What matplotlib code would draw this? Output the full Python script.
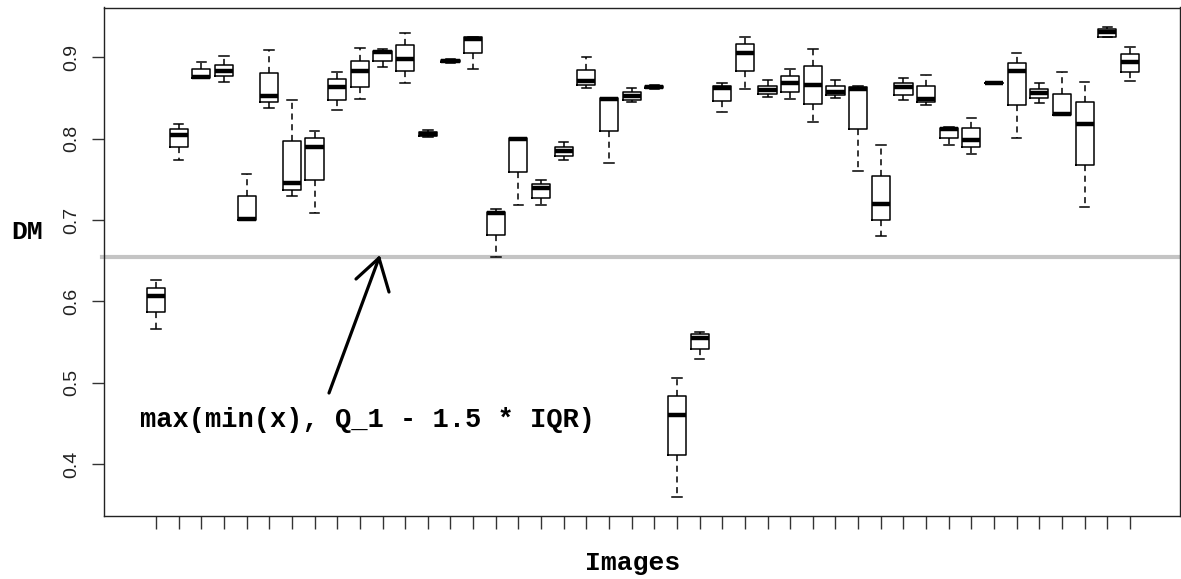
import matplotlib
matplotlib.use("Agg")
import matplotlib.pyplot as plt
from matplotlib.lines import Line2D

# five-number summaries per image (top whisker -> bottom whisker)
whis_hi = [0.626, 0.818, 0.894, 0.9016, 0.7565, 0.9086, 0.848, 0.809, 0.882, 0.912,
           0.910, 0.930, 0.811, 0.898, 0.9246, 0.714, 0.801, 0.749, 0.7955, 0.900,
           0.8496, 0.8626, 0.866, 0.506, 0.5627, 0.868, 0.925, 0.8717, 0.8856, 0.9106,
           0.8717, 0.8647, 0.7918, 0.8746, 0.8782, 0.8143, 0.8258, 0.8695, 0.9053, 0.868,
           0.8823, 0.870, 0.9372, 0.9123]
q3 = [0.616, 0.8115, 0.886, 0.891, 0.730, 0.881, 0.797, 0.801, 0.873, 0.896,
      0.908, 0.915, 0.808, 0.897, 0.9246, 0.710, 0.801, 0.7446, 0.790, 0.884,
      0.8496, 0.857, 0.865, 0.4833, 0.5595, 0.8647, 0.9163, 0.8647, 0.877, 0.8893,
      0.8643, 0.8631, 0.7545, 0.868, 0.8643, 0.8131, 0.8131, 0.869, 0.893, 0.861,
      0.8553, 0.8447, 0.9344, 0.9037]
medians = [0.606, 0.8045, 0.8755, 0.883, 0.701, 0.852, 0.746, 0.790, 0.863, 0.883,
           0.906, 0.898, 0.806, 0.895, 0.922, 0.708, 0.799, 0.739, 0.785, 0.8705,
           0.8484, 0.853, 0.864, 0.4603, 0.5553, 0.8623, 0.9057, 0.8598, 0.8684, 0.8663,
           0.8573, 0.8614, 0.7193, 0.8639, 0.8484, 0.8115, 0.7987, 0.8684, 0.8828, 0.8557,
           0.8307, 0.8184, 0.9315, 0.8942]
q1 = [0.5865, 0.790, 0.874, 0.877, 0.700, 0.845, 0.737, 0.749, 0.848, 0.864,
      0.895, 0.8835, 0.803, 0.894, 0.905, 0.6816, 0.7594, 0.7274, 0.779, 0.866,
      0.8094, 0.848, 0.862, 0.4111, 0.5418, 0.8467, 0.8835, 0.8549, 0.8573, 0.843,
      0.8533, 0.8115, 0.6996, 0.8537, 0.845, 0.8012, 0.790, 0.868, 0.8414, 0.8503,
      0.8294, 0.7672, 0.9253, 0.8823]
whis_lo = [0.566, 0.774, 0.874, 0.870, 0.700, 0.838, 0.730, 0.709, 0.835, 0.849,
           0.888, 0.868, 0.802, 0.893, 0.8856, 0.655, 0.719, 0.719, 0.774, 0.8626,
           0.7704, 0.845, 0.861, 0.3591, 0.5295, 0.8324, 0.8607, 0.8516, 0.8484, 0.820,
           0.8503, 0.760, 0.6803, 0.8471, 0.8417, 0.7918, 0.7815, 0.8675, 0.8012, 0.8435,
           0.8294, 0.7156, 0.925, 0.8705]

cutoff = 0.654  # grey reference line
note = "max(min(x), Q_1 - 1.5 * IQR)"

W, H = 1181, 579
fig = plt.figure(figsize=(W / 100, H / 100), dpi=100)
ax = fig.add_axes([104 / W, 1 - 516 / H, (1180 - 104) / W, (516 - 7.5) / H])

stats = []
for i in range(len(medians)):
    stats.append(dict(whislo=whis_lo[i], q1=q1[i], med=medians[i], q3=q3[i],
                      whishi=whis_hi[i], fliers=[]))
positions = list(range(1, len(stats) + 1))

ax.bxp(stats, positions=positions, widths=0.8, capwidths=0.42, showfliers=False,
       boxprops=dict(color="black", linewidth=1.1),
       medianprops=dict(color="black", linewidth=3.2, solid_capstyle="butt"),
       whiskerprops=dict(color="black", linewidth=1.1, linestyle=(0, (4, 3))),
       capprops=dict(color="black", linewidth=1.1))

ax.axhline(cutoff, xmin=-0.002, xmax=1.0, color="#c4c4c4", linewidth=3, clip_on=False, zorder=0)

ax.set_xlim(-1.296, 46.21)
ax.set_ylim(0.3361, 0.9612)
ax.set_xticks(positions)
ax.set_xticklabels([])
ax.set_yticks([0.4, 0.5, 0.6, 0.7, 0.8, 0.9])
ax.set_yticklabels(["0.4", "0.5", "0.6", "0.7", "0.8", "0.9"], rotation=90, va="center",
                   fontfamily="Liberation Sans", fontsize=14, color="#222222")
ax.tick_params(axis="both", length=9, width=1.0, color="#333333")
ax.tick_params(axis="y", pad=8)
for s in ax.spines.values():
    s.set_linewidth(1.0)
    s.set_color("#222222")

mono = dict(fontfamily="Liberation Mono", fontweight="bold", color="black")
fig.text(633 / W, 1 - 563 / H, "Images", ha="center", va="center", fontsize=19, **mono)
fig.text(27 / W, 1 - 232 / H, "DM", ha="center", va="center", fontsize=19, **mono)
fig.text(140 / W, 1 - 420 / H, note, ha="left", va="center", fontsize=19.5, **mono)

# hand-drawn arrow pointing at the cutoff line
def px(x, y):
    return x / W, 1 - y / H

for (x0, y0), (x1, y1) in [((329, 393), (379, 258)), ((379, 258), (356, 279)),
                           ((379, 258), (389, 292))]:
    (a, b), (c, d) = px(x0, y0), px(x1, y1)
    fig.add_artist(Line2D([a, c], [b, d], color="black", linewidth=2.3,
                          solid_capstyle="round"))

fig.savefig("out.png", dpi=100)
